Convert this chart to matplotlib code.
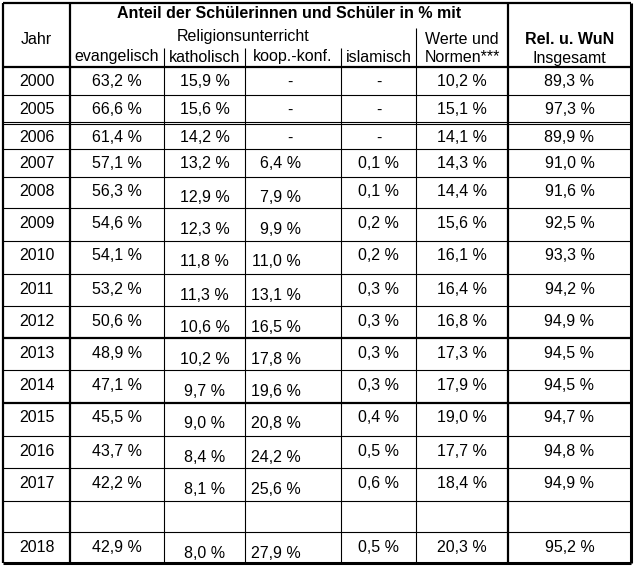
import matplotlib
matplotlib.use("Agg")
import matplotlib.pyplot as plt

# table values (None = "-")
years = [2000, 2005, 2006, 2007, 2008, 2009, 2010, 2011, 2012, 2013, 2014, 2015, 2016, 2017, 2018]
evangelisch = [63.2, 66.6, 61.4, 57.1, 56.3, 54.6, 54.1, 53.2, 50.6, 48.9, 47.1, 45.5, 43.7, 42.2, 42.9]
katholisch = [15.9, 15.6, 14.2, 13.2, 12.9, 12.3, 11.8, 11.3, 10.6, 10.2, 9.7, 9.0, 8.4, 8.1, 8.0]
koop_konf = [None, None, None, 6.4, 7.9, 9.9, 11.0, 13.1, 16.5, 17.8, 19.6, 20.8, 24.2, 25.6, 27.9]
islamisch = [None, None, None, 0.1, 0.1, 0.2, 0.2, 0.3, 0.3, 0.3, 0.3, 0.4, 0.5, 0.6, 0.5]
werte_normen = [10.2, 15.1, 14.1, 14.3, 14.4, 15.6, 16.1, 16.4, 16.8, 17.3, 17.9, 19.0, 17.7, 18.4, 20.3]
insgesamt = [89.3, 97.3, 89.9, 91.0, 91.6, 92.5, 93.3, 94.2, 94.9, 94.5, 94.5, 94.7, 94.8, 94.9, 95.2]

sub_headers = ["evangelisch", "katholisch", "koop.-konf.", "islamisch"]


def fmt(v):
    if v is None:
        return "-"
    return f"{v:.1f}".replace(".", ",") + " %"


plt.rcParams['font.family'] = ['Liberation Sans', 'DejaVu Sans']
fs = 11.5

fig = plt.figure(figsize=(6.36, 5.73), dpi=100)
ax = fig.add_axes([0, 0, 1, 1])
ax.set_xlim(0, 636)
ax.set_ylim(573, 0)
ax.axis('off')

# column borders and row borders in pixels
xs = [3, 70, 164, 245, 341, 416, 508, 631]
ys = [3, 67, 95, 123, 149, 177, 208, 241, 274, 306, 338, 370, 403, 436, 468, 501, 532, 563]
thick_rows = {67, 338, 403}
double_rows = {123}
blank_row = 14  # empty row before 2018

thin = 0.8
bold = 1.6

def hline(y, x0, x1, lw):
    ax.plot([x0, x1], [y, y], color='black', lw=lw, solid_capstyle='butt')

def vline(x, y0, y1, lw):
    ax.plot([x, x], [y0, y1], color='black', lw=lw, solid_capstyle='butt')

# horizontal lines
for y in ys[1:-1]:
    if y in double_rows:
        hline(y - 1, xs[0], xs[-1], thin)
        hline(y + 1.2, xs[0], xs[-1], thin)
    else:
        hline(y, xs[0], xs[-1], bold if y in thick_rows else thin)

# outer border
hline(ys[0], xs[0], xs[-1], bold)
hline(ys[-1], xs[0], xs[-1], 2.2)
vline(xs[0], ys[0], ys[-1], bold)
vline(xs[-1], ys[0], ys[-1], 2.2)

# inner verticals
vline(xs[1], ys[0], ys[-1], bold)
vline(xs[6], ys[0], ys[-1], bold)
vline(xs[5], 28, ys[-1], thin)
for x in xs[2:5]:
    vline(x, 48, ys[-1], thin)

# header text
ax.text((xs[1] + xs[6]) / 2, 14, "Anteil der Schülerinnen und Schüler in % mit",
        ha='center', va='center', fontsize=fs, fontweight='bold')
ax.text((xs[0] + xs[1]) / 2, 39, "Jahr", ha='center', va='center', fontsize=fs)
ax.text((xs[1] + xs[5]) / 2, 37, "Religionsunterricht", ha='center', va='center', fontsize=fs)
for i, lab in enumerate(sub_headers):
    ax.text((xs[1 + i] + xs[2 + i]) / 2, 57, lab, ha='center', va='center', fontsize=fs)
ax.text((xs[5] + xs[6]) / 2, 39, "Werte und", ha='center', va='center', fontsize=fs)
ax.text((xs[5] + xs[6]) / 2, 57, "Normen***", ha='center', va='center', fontsize=fs)
ax.text((xs[6] + xs[7]) / 2, 40, "Rel. u. WuN", ha='center', va='center', fontsize=fs, fontweight='bold')
ax.text((xs[6] + xs[7]) / 2, 58, "Insgesamt", ha='center', va='center', fontsize=fs)

# body rows
k = 0
for r in range(len(ys) - 2):
    if r == blank_row:
        continue
    top = ys[r + 1]
    y = top + 15
    # taller rows have katholisch / koop values sitting lower
    y_low = top + 21 if ys[r + 2] - top > 30 else y
    cols = [years[k], fmt(evangelisch[k]), fmt(katholisch[k]), fmt(koop_konf[k]),
            fmt(islamisch[k]), fmt(werte_normen[k]), fmt(insgesamt[k])]
    for c, txt in enumerate(cols):
        cx = (xs[c] + xs[c + 1]) / 2
        yy = y_low if c in (2, 3) else y
        if c == 3 and koop_konf[k] is not None:
            ax.text(301, yy, txt, ha='right', va='center', fontsize=fs)
        elif c == 3:
            ax.text(290, yy, txt, ha='center', va='center', fontsize=fs)
        else:
            ax.text(cx, yy, str(txt), ha='center', va='center', fontsize=fs)
    k += 1

fig.savefig("out.png", dpi=100, facecolor='white')
